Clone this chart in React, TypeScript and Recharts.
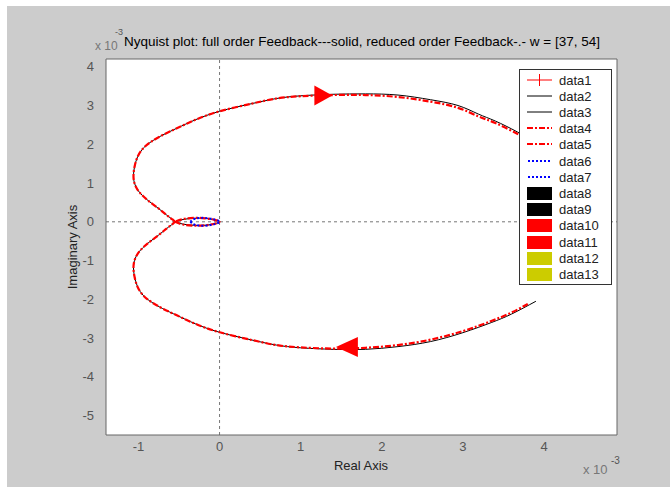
import React from "react";
import {
  CartesianGrid,
  ComposedChart,
  Line,
  ReferenceLine,
  Scatter,
  XAxis,
  YAxis,
} from "recharts";

const xTicks = [-1, 0, 1, 2, 3, 4];
const yTicks = [-5, -4, -3, -2, -1, 0, 1, 2, 3, 4];

// real / imaginary parts, x 1e-3 — full order feedback (solid)
const fullLower = [
  { x: 3.9, y: -2.05 }, { x: 3.6, y: -2.38 }, { x: 3.35, y: -2.6 }, { x: 3.0, y: -2.86 },
  { x: 2.6, y: -3.09 }, { x: 2.2, y: -3.22 }, { x: 1.8, y: -3.29 }, { x: 1.4, y: -3.29 },
  { x: 1.0, y: -3.25 }, { x: 0.7, y: -3.18 }, { x: 0.4, y: -3.05 }, { x: 0.0, y: -2.85 },
  { x: -0.3, y: -2.63 }, { x: -0.52, y: -2.42 }, { x: -0.7, y: -2.24 }, { x: -0.84, y: -2.07 },
  { x: -0.94, y: -1.9 }, { x: -1.01, y: -1.68 }, { x: -1.05, y: -1.4 }, { x: -1.06, y: -1.12 },
  { x: -1.03, y: -0.9 }, { x: -0.97, y: -0.72 }, { x: -0.87, y: -0.53 }, { x: -0.75, y: -0.34 },
  { x: -0.65, y: -0.17 }, { x: -0.58, y: -0.06 }, { x: -0.55, y: 0 },
];
const fullUpper = [
  { x: -0.55, y: 0 }, { x: -0.58, y: 0.06 }, { x: -0.65, y: 0.17 }, { x: -0.75, y: 0.34 },
  { x: -0.87, y: 0.53 }, { x: -0.97, y: 0.72 }, { x: -1.03, y: 0.9 }, { x: -1.06, y: 1.12 },
  { x: -1.05, y: 1.4 }, { x: -1.01, y: 1.68 }, { x: -0.94, y: 1.9 }, { x: -0.84, y: 2.07 },
  { x: -0.7, y: 2.24 }, { x: -0.52, y: 2.42 }, { x: -0.3, y: 2.63 }, { x: 0.0, y: 2.85 },
  { x: 0.4, y: 3.05 }, { x: 0.7, y: 3.18 }, { x: 1.0, y: 3.25 }, { x: 1.4, y: 3.29 },
  { x: 1.8, y: 3.3 }, { x: 2.2, y: 3.27 }, { x: 2.6, y: 3.15 }, { x: 2.94, y: 3.0 },
  { x: 3.19, y: 2.78 }, { x: 3.4, y: 2.6 }, { x: 3.67, y: 2.32 }, { x: 3.9, y: 2.05 },
];
const fullLoop = [
  { x: -0.55, y: 0 }, { x: -0.45, y: -0.06 }, { x: -0.32, y: -0.09 }, { x: -0.18, y: -0.09 },
  { x: -0.06, y: -0.05 }, { x: 0, y: 0 }, { x: -0.06, y: 0.05 }, { x: -0.18, y: 0.09 },
  { x: -0.32, y: 0.09 }, { x: -0.45, y: 0.06 }, { x: -0.55, y: 0 },
];

// reduced order feedback (dash-dot)
const reducedLower = [
  { x: 3.8, y: -2.12 }, { x: 3.6, y: -2.34 }, { x: 3.35, y: -2.56 }, { x: 3.0, y: -2.82 },
  { x: 2.6, y: -3.04 }, { x: 2.2, y: -3.18 }, { x: 1.8, y: -3.25 }, { x: 1.4, y: -3.27 },
  { x: 1.0, y: -3.24 }, { x: 0.7, y: -3.18 }, { x: 0.4, y: -3.05 }, { x: 0.0, y: -2.85 },
  { x: -0.3, y: -2.63 }, { x: -0.52, y: -2.42 }, { x: -0.7, y: -2.24 }, { x: -0.84, y: -2.07 },
  { x: -0.94, y: -1.9 }, { x: -1.01, y: -1.68 }, { x: -1.05, y: -1.4 }, { x: -1.06, y: -1.12 },
  { x: -1.03, y: -0.9 }, { x: -0.97, y: -0.72 }, { x: -0.87, y: -0.53 }, { x: -0.75, y: -0.34 },
  { x: -0.65, y: -0.17 }, { x: -0.58, y: -0.06 }, { x: -0.55, y: 0 },
];
const reducedUpper = [
  { x: -0.55, y: 0 }, { x: -0.58, y: 0.06 }, { x: -0.65, y: 0.17 }, { x: -0.75, y: 0.34 },
  { x: -0.87, y: 0.53 }, { x: -0.97, y: 0.72 }, { x: -1.03, y: 0.9 }, { x: -1.06, y: 1.12 },
  { x: -1.05, y: 1.4 }, { x: -1.01, y: 1.68 }, { x: -0.94, y: 1.9 }, { x: -0.84, y: 2.07 },
  { x: -0.7, y: 2.24 }, { x: -0.52, y: 2.42 }, { x: -0.3, y: 2.63 }, { x: 0.0, y: 2.85 },
  { x: 0.4, y: 3.05 }, { x: 0.7, y: 3.18 }, { x: 1.0, y: 3.24 }, { x: 1.4, y: 3.27 },
  { x: 1.8, y: 3.27 }, { x: 2.2, y: 3.22 }, { x: 2.6, y: 3.1 }, { x: 2.94, y: 2.94 },
  { x: 3.19, y: 2.72 }, { x: 3.4, y: 2.55 }, { x: 3.67, y: 2.27 }, { x: 3.85, y: 2.06 },
];
const reducedLoop = [
  { x: -0.55, y: 0 }, { x: -0.45, y: -0.07 }, { x: -0.32, y: -0.1 }, { x: -0.18, y: -0.09 },
  { x: -0.06, y: -0.05 }, { x: 0, y: 0 }, { x: -0.06, y: 0.05 }, { x: -0.18, y: 0.09 },
  { x: -0.32, y: 0.1 }, { x: -0.45, y: 0.07 }, { x: -0.55, y: 0 },
];

const innerLoop = [
  { x: -0.36, y: 0 }, { x: -0.3, y: -0.08 }, { x: -0.18, y: -0.1 }, { x: -0.06, y: -0.06 },
  { x: 0, y: 0 }, { x: -0.06, y: 0.06 }, { x: -0.18, y: 0.1 }, { x: -0.3, y: 0.08 },
  { x: -0.36, y: 0 },
];

const arrowTop = [{ x: 1.28, y: 3.26 }];
const arrowBottom = [{ x: 1.57, y: -3.23 }];

const legendNames = [
  "data1", "data2", "data3", "data4", "data5", "data6", "data7",
  "data8", "data9", "data10", "data11", "data12", "data13",
];

const font = "'Liberation Sans', Arial, sans-serif";

const sampleFor = (i: number) => {
  if (i === 0)
    return (
      <>
        <line x1={0} y1={6} x2={25} y2={6} stroke="#f00" strokeWidth={1} />
        <line x1={12.5} y1={0} x2={12.5} y2={12} stroke="#f00" strokeWidth={1} />
      </>
    );
  if (i <= 2) return <line x1={0} y1={6} x2={25} y2={6} stroke="#000" strokeWidth={1} />;
  if (i <= 4)
    return <line x1={0} y1={6} x2={25} y2={6} stroke="#f00" strokeWidth={2} strokeDasharray="6 2 2 2" />;
  if (i <= 6)
    return <line x1={1} y1={6} x2={25} y2={6} stroke="#00f" strokeWidth={2} strokeDasharray="2 2" />;
  const fill = i <= 8 ? "#000" : i <= 10 ? "#f00" : "#cccc00";
  return <rect x={0} y={0} width={25} height={13} fill={fill} />;
};

const ArrowRight = (p: any) => (
  <polygon
    points={`${p.cx - 9},${p.cy - 10} ${p.cx + 9},${p.cy} ${p.cx - 9},${p.cy + 10}`}
    fill="#f00"
  />
);
const ArrowLeft = (p: any) => (
  <polygon
    points={`${p.cx + 11},${p.cy - 10} ${p.cx - 11},${p.cy} ${p.cx + 11},${p.cy + 10}`}
    fill="#f00"
  />
);

export default function App() {
  const tickStyle = { fill: "#555", fontSize: 13, fontFamily: font };
  const curve = { xAxisId: "x", yAxisId: "y", dataKey: "y", type: "natural" as const, dot: false, isAnimationActive: false };
  const black = { stroke: "#000", strokeWidth: 1 };
  const red = { stroke: "#f00", strokeWidth: 2.2, strokeDasharray: "6 2 2 2" };
  return (
    <div style={{ position: "absolute", left: 0, top: 0, width: 670, height: 487, background: "#fff" }}>
      <div style={{ position: "absolute", left: 7, top: 6, right: 0, bottom: 0, background: "#cccccc" }} />
      <div style={{ position: "absolute", left: 0, top: 0 }}>
        <ComposedChart
          width={670}
          height={487}
          margin={{ top: 59, right: 53, bottom: 22, left: 66 }}
        >
          <CartesianGrid horizontal={false} vertical={false} fill="#fff" xAxisId="x" yAxisId="y" />
          <XAxis
            xAxisId="x"
            dataKey="x"
            type="number"
            domain={[-1.4, 4.9]}
            ticks={xTicks}
            allowDataOverflow
            height={30}
            tickLine={false}
            tickSize={6}
            tickMargin={1}
            tick={tickStyle}
            axisLine={{ stroke: "#666" }}
          />
          <XAxis xAxisId="xb" dataKey="x" type="number" domain={[-1.4, 4.9]} ticks={xTicks} mirror tick={false} tickSize={5} tickLine={{ stroke: "#666" }} axisLine={false} height={1} />
          <XAxis xAxisId="xt" dataKey="x" type="number" orientation="top" domain={[-1.4, 4.9]} ticks={xTicks} mirror tick={false} tickSize={5} tickLine={{ stroke: "#666" }} axisLine={{ stroke: "#666" }} height={1} />
          <YAxis
            yAxisId="y"
            dataKey="y"
            type="number"
            domain={[-5.5, 4.2]}
            ticks={yTicks}
            allowDataOverflow
            width={40}
            tickLine={false}
            tickSize={6}
            tickMargin={6}
            tick={tickStyle}
            axisLine={{ stroke: "#666" }}
          />
          <YAxis yAxisId="yl" dataKey="y" type="number" domain={[-5.5, 4.2]} ticks={yTicks} mirror tick={false} tickSize={5} tickLine={{ stroke: "#666" }} axisLine={false} width={1} />
          <YAxis yAxisId="yr" dataKey="y" type="number" orientation="right" domain={[-5.5, 4.2]} ticks={yTicks} mirror tick={false} tickSize={5} tickLine={{ stroke: "#666" }} axisLine={{ stroke: "#666" }} width={1} />
          <ReferenceLine xAxisId="x" yAxisId="y" x={0} stroke="#777" strokeDasharray="3 3" />
          <ReferenceLine xAxisId="x" yAxisId="y" y={0} stroke="#777" strokeDasharray="3 3" />
          <Line {...curve} {...black} data={fullLower} />
          <Line {...curve} {...black} data={fullUpper} />
          <Line {...curve} {...black} data={fullLoop} />
          <Line {...curve} {...red} data={reducedLower} />
          <Line {...curve} {...red} data={reducedUpper} />
          <Line {...curve} {...red} data={reducedLoop} />
          <Line {...curve} data={innerLoop} stroke="#00f" strokeWidth={2} strokeDasharray="2 2" />
          <Scatter xAxisId="x" yAxisId="y" data={arrowTop} shape={ArrowRight} isAnimationActive={false} />
          <Scatter xAxisId="x" yAxisId="y" data={arrowBottom} shape={ArrowLeft} isAnimationActive={false} />
        </ComposedChart>
      </div>

      <div style={{ position: "absolute", left: 62, width: 600, top: 34, textAlign: "center", fontFamily: font, fontSize: 13.5, color: "#000", whiteSpace: "nowrap" }}>
        Nyquist plot: full order Feedback---solid, reduced order Feedback-.- w = [37, 54]
      </div>
      <div style={{ position: "absolute", left: 95, top: 39, fontFamily: font, fontSize: 12, color: "#777" }}>x 10</div>
      <div style={{ position: "absolute", left: 115, top: 27, fontFamily: font, fontSize: 9, color: "#555" }}>-3</div>
      <div style={{ position: "absolute", left: 583, top: 462, fontFamily: font, fontSize: 13, color: "#777" }}>x 10</div>
      <div style={{ position: "absolute", left: 611, top: 455, fontFamily: font, fontSize: 10, color: "#555" }}>-3</div>
      <div style={{ position: "absolute", left: 261, width: 200, top: 458, textAlign: "center", fontFamily: font, fontSize: 13, color: "#222" }}>Real Axis</div>
      <div style={{ position: "absolute", left: 72, top: 247, transform: "translate(-50%, -50%) rotate(-90deg)", fontFamily: font, fontSize: 13, color: "#222", whiteSpace: "nowrap" }}>Imaginary Axis</div>

      <div style={{ position: "absolute", left: 519, top: 69, width: 91, height: 214, border: "1px solid #333", background: "#fff" }}>
        {legendNames.map((name, i) => (
          <div key={name} style={{ position: "absolute", left: 7, top: 3 + i * 16.2, height: 14, display: "flex", alignItems: "center" }}>
            <svg width={26} height={13} style={{ overflow: "visible" }}>{sampleFor(i)}</svg>
            <span style={{ marginLeft: 6, fontFamily: font, fontSize: 13, color: "#222" }}>{name}</span>
          </div>
        ))}
      </div>
    </div>
  );
}
